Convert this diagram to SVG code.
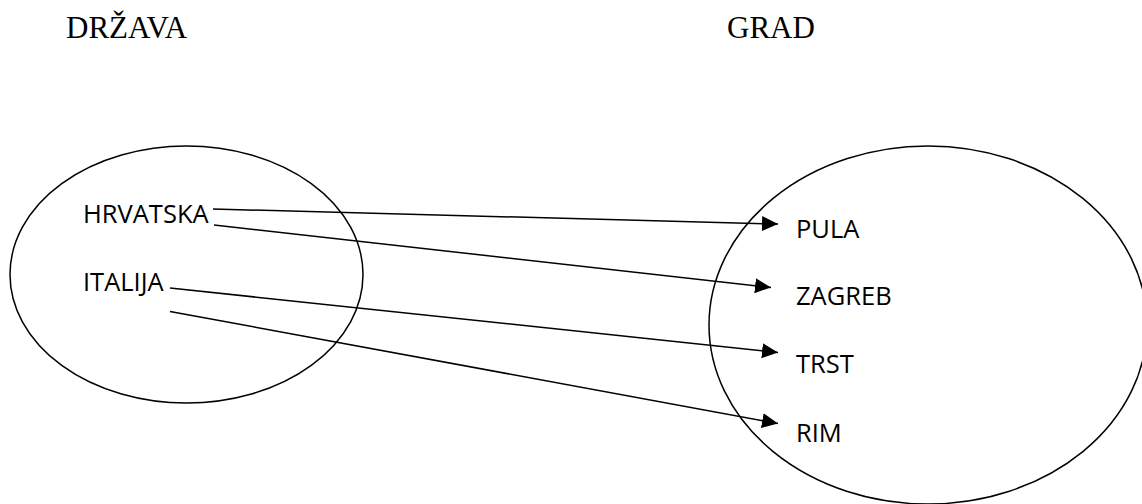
<svg xmlns="http://www.w3.org/2000/svg" width="1142" height="504" viewBox="0 0 1142 504">
<style>
.hdr{font-family:"Liberation Serif","Times New Roman",serif;font-size:31px;fill:#000}
.lbl{font-family:"Open Sans","Liberation Sans",sans-serif;font-size:25.5px;fill:#000}
.set{fill:none;stroke:#000;stroke-width:1.5}
.con{fill:none;stroke:#000;stroke-width:1.5}
</style>
<defs>
<marker id="ah" markerUnits="userSpaceOnUse" markerWidth="18" markerHeight="16" refX="16" refY="8" orient="auto">
<path d="M0,0.5 L16,8 L0,15.5 Z" fill="#000"/>
</marker>
</defs>
<rect width="1142" height="504" fill="#fff"/>
<g id="header-drzava"><text class="hdr" x="66" y="38">DRŽAVA</text></g>
<g id="header-grad"><text class="hdr" x="727" y="38">GRAD</text></g>
<g id="set-drzava"><ellipse class="set" cx="186.5" cy="274.5" rx="176.5" ry="128.5"/></g>
<g id="set-grad"><ellipse class="set" cx="928" cy="325" rx="219" ry="179"/></g>
<g id="node-hrvatska"><text class="lbl" x="83" y="223">HRVATSKA</text></g>
<g id="node-italija"><text class="lbl" x="83" y="290.5">ITALIJA</text></g>
<g id="node-pula"><text class="lbl" x="796" y="238">PULA</text></g>
<g id="node-zagreb"><text class="lbl" x="796" y="305">ZAGREB</text></g>
<g id="node-trst"><text class="lbl" x="796" y="373">TRST</text></g>
<g id="node-rim"><text class="lbl" x="796" y="441.5">RIM</text></g>
<g id="connectors">
<line class="con" x1="213" y1="209" x2="778" y2="224" marker-end="url(#ah)"/>
<line class="con" x1="214" y1="225" x2="771" y2="287.5" marker-end="url(#ah)"/>
<line class="con" x1="170" y1="288" x2="778" y2="352.5" marker-end="url(#ah)"/>
<line class="con" x1="170" y1="311.5" x2="778" y2="423.5" marker-end="url(#ah)"/>
</g>
</svg>
